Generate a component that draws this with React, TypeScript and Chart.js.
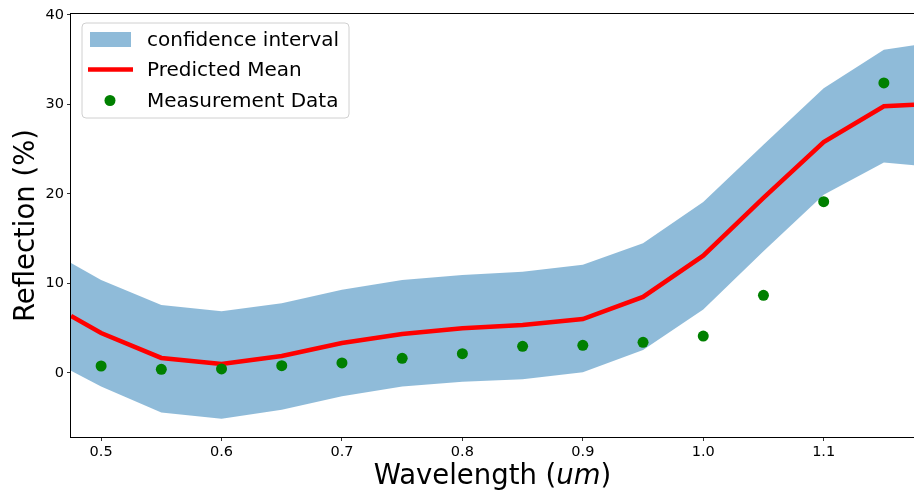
import React, { useEffect, useRef } from 'react';
import { Chart, registerables } from 'chart.js';

Chart.register(...registerables);

const gridX = [0.475, 0.5, 0.55, 0.6, 0.65, 0.7, 0.75, 0.8, 0.85, 0.9, 0.95, 1.0, 1.05, 1.1, 1.15, 1.175];
const meanY = [6.37, 4.47, 1.68, 1.0, 1.9, 3.35, 4.36, 5.0, 5.36, 6.03, 8.5, 13.1, 19.55, 25.8, 29.8, 29.95];
const upperY = [12.3, 10.4, 7.6, 6.9, 7.8, 9.3, 10.4, 10.95, 11.3, 12.1, 14.5, 19.1, 25.5, 31.8, 36.1, 36.6];
const lowerY = [0.26, -1.5, -4.4, -5.1, -4.1, -2.6, -1.5, -0.97, -0.7, 0.08, 2.57, 7.1, 13.6, 19.9, 23.5, 23.2];

const measX = [0.5, 0.55, 0.6, 0.65, 0.7, 0.75, 0.8, 0.85, 0.9, 0.95, 1.0, 1.05, 1.1, 1.15];
const measY = [0.78, 0.41, 0.45, 0.82, 1.12, 1.64, 2.16, 2.98, 3.09, 3.43, 4.13, 8.68, 19.14, 32.4];

const xTicks = [0.5, 0.6, 0.7, 0.8, 0.9, 1.0, 1.1];
const yTicks = [0, 10, 20, 30, 40];

const labels = ['confidence interval', 'Predicted Mean', 'Measurement Data'];

const FONT = '"DejaVu Sans", sans-serif';
const BAND = 'rgba(31,119,180,0.5)';
const RED = '#ff0000';
const GREEN = '#008000';

const pts = (xs: number[], ys: number[]) => xs.map((x, i) => ({ x, y: ys[i] }));

export default function App() {
  const ref = useRef<HTMLCanvasElement | null>(null);

  useEffect(() => {
    document.body.style.margin = '0';
    const canvas = ref.current;
    if (!canvas) return;

    const decor = {
      id: 'decor',
      afterDraw(chart: any) {
        const ctx = chart.ctx;
        const a = chart.chartArea;
        ctx.save();
        // frame
        ctx.strokeStyle = '#000';
        ctx.lineWidth = 1;
        ctx.strokeRect(Math.round(a.left) - 0.5, Math.round(a.top) - 0.5, Math.round(a.right - a.left) + 1, Math.round(a.bottom - a.top) + 1);

        // x title with italic "um"
        ctx.fillStyle = '#000';
        ctx.textBaseline = 'middle';
        const p1 = 'Wavelength (';
        const p2 = 'um';
        const p3 = ')';
        const fs = 27.5;
        ctx.font = `${fs}px ${FONT}`;
        const w1 = ctx.measureText(p1).width;
        const w3 = ctx.measureText(p3).width;
        ctx.font = `oblique ${fs}px ${FONT}`;
        const w2 = ctx.measureText(p2).width;
        const total = w1 + w2 + w3;
        let x = (a.left + a.right) / 2 - total / 2;
        const ty = 477;
        ctx.textAlign = 'left';
        ctx.font = `${fs}px ${FONT}`;
        ctx.fillText(p1, x, ty);
        x += w1;
        ctx.font = `oblique ${fs}px ${FONT}`;
        ctx.fillText(p2, x, ty);
        x += w2;
        ctx.font = `${fs}px ${FONT}`;
        ctx.fillText(p3, x, ty);

        // y title
        ctx.save();
        ctx.translate(27, (a.top + a.bottom) / 2);
        ctx.rotate(-Math.PI / 2);
        ctx.textAlign = 'center';
        ctx.font = `${fs}px ${FONT}`;
        ctx.fillText('Reflection (%)', 0, 0);
        ctx.restore();

        // legend
        const bx = 82, by = 23, bw = 267, bh = 95, r = 4;
        ctx.beginPath();
        ctx.moveTo(bx + r, by);
        ctx.lineTo(bx + bw - r, by);
        ctx.quadraticCurveTo(bx + bw, by, bx + bw, by + r);
        ctx.lineTo(bx + bw, by + bh - r);
        ctx.quadraticCurveTo(bx + bw, by + bh, bx + bw - r, by + bh);
        ctx.lineTo(bx + r, by + bh);
        ctx.quadraticCurveTo(bx, by + bh, bx, by + bh - r);
        ctx.lineTo(bx, by + r);
        ctx.quadraticCurveTo(bx, by, bx + r, by);
        ctx.closePath();
        ctx.fillStyle = 'rgba(255,255,255,0.8)';
        ctx.fill();
        ctx.strokeStyle = '#d0d0d0';
        ctx.lineWidth = 1;
        ctx.stroke();

        const rows = [39.5, 69.5, 100.5];
        ctx.fillStyle = BAND;
        ctx.fillRect(90, rows[0] - 7.5, 41, 15);
        ctx.strokeStyle = RED;
        ctx.lineWidth = 4.5;
        ctx.beginPath();
        ctx.moveTo(88, rows[1]);
        ctx.lineTo(133, rows[1]);
        ctx.stroke();
        ctx.fillStyle = GREEN;
        ctx.beginPath();
        ctx.arc(110, rows[2], 5.5, 0, Math.PI * 2);
        ctx.fill();

        ctx.fillStyle = '#000';
        ctx.font = `20px ${FONT}`;
        ctx.textAlign = 'left';
        ctx.textBaseline = 'middle';
        labels.forEach((t, i) => ctx.fillText(t, 147, rows[i] + 1));
        ctx.restore();
      },
    };

    const chart = new Chart(canvas, {
      type: 'scatter',
      data: {
        datasets: [
          {
            label: labels[0],
            data: pts(gridX, upperY),
            showLine: true,
            borderWidth: 0,
            borderColor: 'rgba(0,0,0,0)',
            backgroundColor: BAND,
            pointRadius: 0,
            fill: '+1',
            order: 3,
          },
          {
            label: 'lower',
            data: pts(gridX, lowerY),
            showLine: true,
            borderWidth: 0,
            borderColor: 'rgba(0,0,0,0)',
            pointRadius: 0,
            fill: false,
            order: 3,
          },
          {
            label: labels[1],
            data: pts(gridX, meanY),
            showLine: true,
            borderColor: RED,
            borderWidth: 4.5,
            pointRadius: 0,
            fill: false,
            order: 2,
          },
          {
            label: labels[2],
            data: pts(measX, measY),
            showLine: false,
            backgroundColor: GREEN,
            borderColor: GREEN,
            borderWidth: 0,
            pointRadius: 5.5,
            order: 1,
          },
        ] as any,
      },
      options: {
        responsive: false,
        animation: false,
        layout: { autoPadding: false, padding: { top: 14, right: 0, bottom: 0, left: 0 } },
        plugins: { legend: { display: false }, tooltip: { enabled: false } },
        scales: {
          x: {
            type: 'linear',
            min: 0.475,
            max: 1.175,
            afterBuildTicks: (s: any) => { s.ticks = xTicks.map((v) => ({ value: v })); },
            afterFit: (s: any) => { s.height = 56; },
            ticks: {
              color: '#000',
              font: { family: FONT, size: 14.5 },
              padding: 3,
              maxRotation: 0,
              autoSkip: false,
              callback: (v: any) => Number(v).toFixed(1),
            },
            grid: { display: true, drawOnChartArea: false, drawTicks: true, tickLength: 4, tickColor: '#333', color: '#333' },
            border: { display: false },
          },
          y: {
            type: 'linear',
            min: -7.15,
            max: 40.1,
            afterBuildTicks: (s: any) => { s.ticks = yTicks.map((v) => ({ value: v })); },
            afterFit: (s: any) => { s.width = 71; },
            ticks: {
              color: '#000',
              font: { family: FONT, size: 14.5 },
              padding: 3,
              autoSkip: false,
              callback: (v: any) => String(Math.round(Number(v))),
            },
            grid: { display: true, drawOnChartArea: false, drawTicks: true, tickLength: 4, tickColor: '#333', color: '#333' },
            border: { display: false },
          },
        },
      },
      plugins: [decor],
    });

    return () => chart.destroy();
  }, []);

  return <canvas ref={ref} width={914} height={493} style={{ display: 'block', width: 914, height: 493 }} />;
}
